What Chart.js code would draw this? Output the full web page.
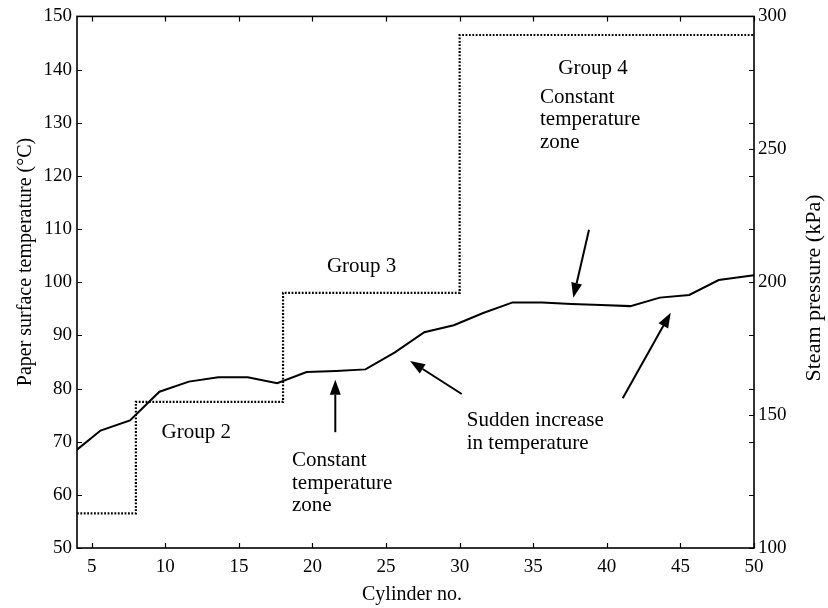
<!DOCTYPE html>
<html><head><meta charset="utf-8">
<script src="https://cdn.jsdelivr.net/npm/chart.js@4.4.0/dist/chart.umd.min.js"></script>
<style>html,body{margin:0;padding:0;background:#fff}</style>
</head><body>
<canvas id="c" width="828" height="608" style="display:block;width:828px;height:608px"></canvas>
<script>
// ---- data ----
const cylinders   = [4, 5.6, 7.6, 9.6, 11.6, 13.6, 15.6, 17.6, 19.6, 21.6, 23.6, 25.6, 27.6, 29.6, 31.6, 33.6, 35.6, 37.6, 39.6, 41.6, 43.6, 45.6, 47.6, 50];
const temperature = [68.5, 72.1, 74.0, 79.4, 81.3, 82.1, 82.1, 81.0, 83.1, 83.3, 83.6, 86.8, 90.6, 91.9, 94.2, 96.2, 96.2, 95.9, 95.7, 95.5, 97.1, 97.6, 100.4, 101.3];
const pressureCylinders = [4, 8, 18, 30, 50];
const pressure          = [113, 155, 196, 293, 293];
const xTicks        = [5, 10, 15, 20, 25, 30, 35, 40, 45, 50];
const tempTicks     = [50, 60, 70, 80, 90, 100, 110, 120, 130, 140, 150];
const pressureTicks = [100, 150, 200, 250, 300];
const xTitle = 'Cylinder no.';
const yTitle = 'Paper surface temperature (\u00B0C)';
const y2Title = 'Steam pressure (kPa)';

// annotations (positions in data units of x / temperature axis)
const notes = [
  {lines: ['Group 2'], x: 12.1, y: 70.6, align: 'center'},
  {lines: ['Group 3'], x: 23.34, y: 101.9, align: 'center'},
  {lines: ['Group 4'], x: 39.06, y: 139.2, align: 'center'},
  {lines: ['Constant', 'temperature', 'zone'], x: 18.61, y: 65.4, align: 'left'},
  {lines: ['Constant', 'temperature', 'zone'], x: 35.46, y: 133.8, align: 'left'},
  {lines: ['Sudden increase', 'in temperature'], x: 30.48, y: 72.9, align: 'left'}
];
const arrows = [
  {from: [21.55, 71.78], to: [21.55, 81.65]},
  {from: [38.79, 109.87], to: [37.72, 97.06]},
  {from: [30.14, 78.97], to: [26.63, 85.2]},
  {from: [41.08, 78.15], to: [44.34, 94.25]}
];

const FONT = '"Liberation Serif", "Times New Roman", serif';

const overlay = {
  id: 'overlay',
  afterDraw(chart) {
    const {ctx, chartArea: a} = chart;
    const x = chart.scales.x, yT = chart.scales.yT, yP = chart.scales.yP;
    ctx.save();
    ctx.strokeStyle = '#000';
    ctx.fillStyle = '#000';
    // box
    ctx.lineWidth = 1.6;
    ctx.strokeRect(a.left, a.top, a.right - a.left, a.bottom - a.top);
    // inward ticks
    ctx.lineWidth = 1.2;
    ctx.beginPath();
    xTicks.forEach(v => {
      const px = Math.round(x.getPixelForValue(v)) + 0.5;
      ctx.moveTo(px, a.bottom); ctx.lineTo(px, a.bottom - 5);
      ctx.moveTo(px, a.top); ctx.lineTo(px, a.top + 5);
    });
    tempTicks.forEach(v => {
      const py = Math.round(yT.getPixelForValue(v)) + 0.5;
      ctx.moveTo(a.left, py); ctx.lineTo(a.left + 5, py);
      ctx.moveTo(a.right, py); ctx.lineTo(a.right - 5, py);
    });
    pressureTicks.forEach(v => {
      const py = Math.round(yP.getPixelForValue(v)) + 0.5;
      ctx.moveTo(a.right, py); ctx.lineTo(a.right - 5, py);
    });
    ctx.stroke();

    // annotations
    ctx.font = '21px ' + FONT;
    ctx.textBaseline = 'alphabetic';
    notes.forEach(n => {
      ctx.textAlign = n.align;
      const px = x.getPixelForValue(n.x), py = yT.getPixelForValue(n.y);
      n.lines.forEach((t, i) => ctx.fillText(t, px, py + i * 22.6));
    });
    // arrows
    arrows.forEach(ar => {
      const x1 = x.getPixelForValue(ar.from[0]), y1 = yT.getPixelForValue(ar.from[1]);
      const x2 = x.getPixelForValue(ar.to[0]), y2 = yT.getPixelForValue(ar.to[1]);
      const ang = Math.atan2(y2 - y1, x2 - x1);
      const hl = 15, hw = 5.5;
      const bx = x2 - hl * Math.cos(ang), by = y2 - hl * Math.sin(ang);
      ctx.lineWidth = 2;
      ctx.beginPath(); ctx.moveTo(x1, y1); ctx.lineTo(bx, by); ctx.stroke();
      ctx.beginPath();
      ctx.moveTo(x2, y2);
      ctx.lineTo(bx + hw * Math.sin(ang), by - hw * Math.cos(ang));
      ctx.lineTo(bx - hw * Math.sin(ang), by + hw * Math.cos(ang));
      ctx.closePath(); ctx.fill();
    });

    // axis titles
    ctx.font = '20px ' + FONT;
    ctx.textAlign = 'center';
    ctx.textBaseline = 'alphabetic';
    ctx.fillText(xTitle, 412, 600);
    ctx.textBaseline = 'middle';
    ctx.save(); ctx.translate(26, 262); ctx.rotate(-Math.PI / 2); ctx.fillText(yTitle, 0, 0); ctx.restore();
    ctx.font = '22px ' + FONT;
    ctx.save(); ctx.translate(814, 288); ctx.rotate(-Math.PI / 2); ctx.fillText(y2Title, 0, 0); ctx.restore();
    ctx.restore();
  }
};

const tickFont = {family: FONT, size: 19};
new Chart(document.getElementById('c'), {
  type: 'line',
  data: {
    datasets: [
      {
        label: 'Paper surface temperature',
        data: cylinders.map((c, i) => ({x: c, y: temperature[i]})),
        yAxisID: 'yT',
        borderColor: '#000', borderWidth: 2, pointRadius: 0, tension: 0, fill: false
      },
      {
        label: 'Steam pressure',
        data: pressureCylinders.map((c, i) => ({x: c, y: pressure[i]})),
        yAxisID: 'yP',
        stepped: 'before',
        borderColor: '#000', borderWidth: 2.2, borderDash: [1.8, 1.6], pointRadius: 0, fill: false
      }
    ]
  },
  options: {
    responsive: false,
    devicePixelRatio: 1,
    animation: false,
    layout: {padding: {top: 14, left: 0, right: 0, bottom: 0}},
    plugins: {legend: {display: false}, tooltip: {enabled: false}},
    scales: {
      x: {
        type: 'linear', min: 4, max: 50,
        afterBuildTicks: s => { s.ticks = xTicks.map(v => ({value: v})); },
        afterFit: s => { s.height = 60; },
        grid: {display: false, drawTicks: false, tickLength: 0},
        border: {display: false},
        ticks: {font: tickFont, color: '#000', padding: 8, maxRotation: 0, autoSkip: false}
      },
      yT: {
        type: 'linear', position: 'left', min: 50, max: 150,
        afterBuildTicks: s => { s.ticks = tempTicks.map(v => ({value: v})); },
        afterFit: s => { s.width = 77; },
        grid: {display: false, drawTicks: false, tickLength: 0},
        border: {display: false},
        ticks: {font: tickFont, color: '#000', padding: 5, autoSkip: false}
      },
      yP: {
        type: 'linear', position: 'right', min: 100, max: 300,
        afterBuildTicks: s => { s.ticks = pressureTicks.map(v => ({value: v})); },
        afterFit: s => { s.width = 74; },
        grid: {display: false, drawTicks: false, tickLength: 0},
        border: {display: false},
        ticks: {font: tickFont, color: '#000', padding: 4, autoSkip: false}
      }
    }
  },
  plugins: [overlay]
});
</script>
</body></html>
